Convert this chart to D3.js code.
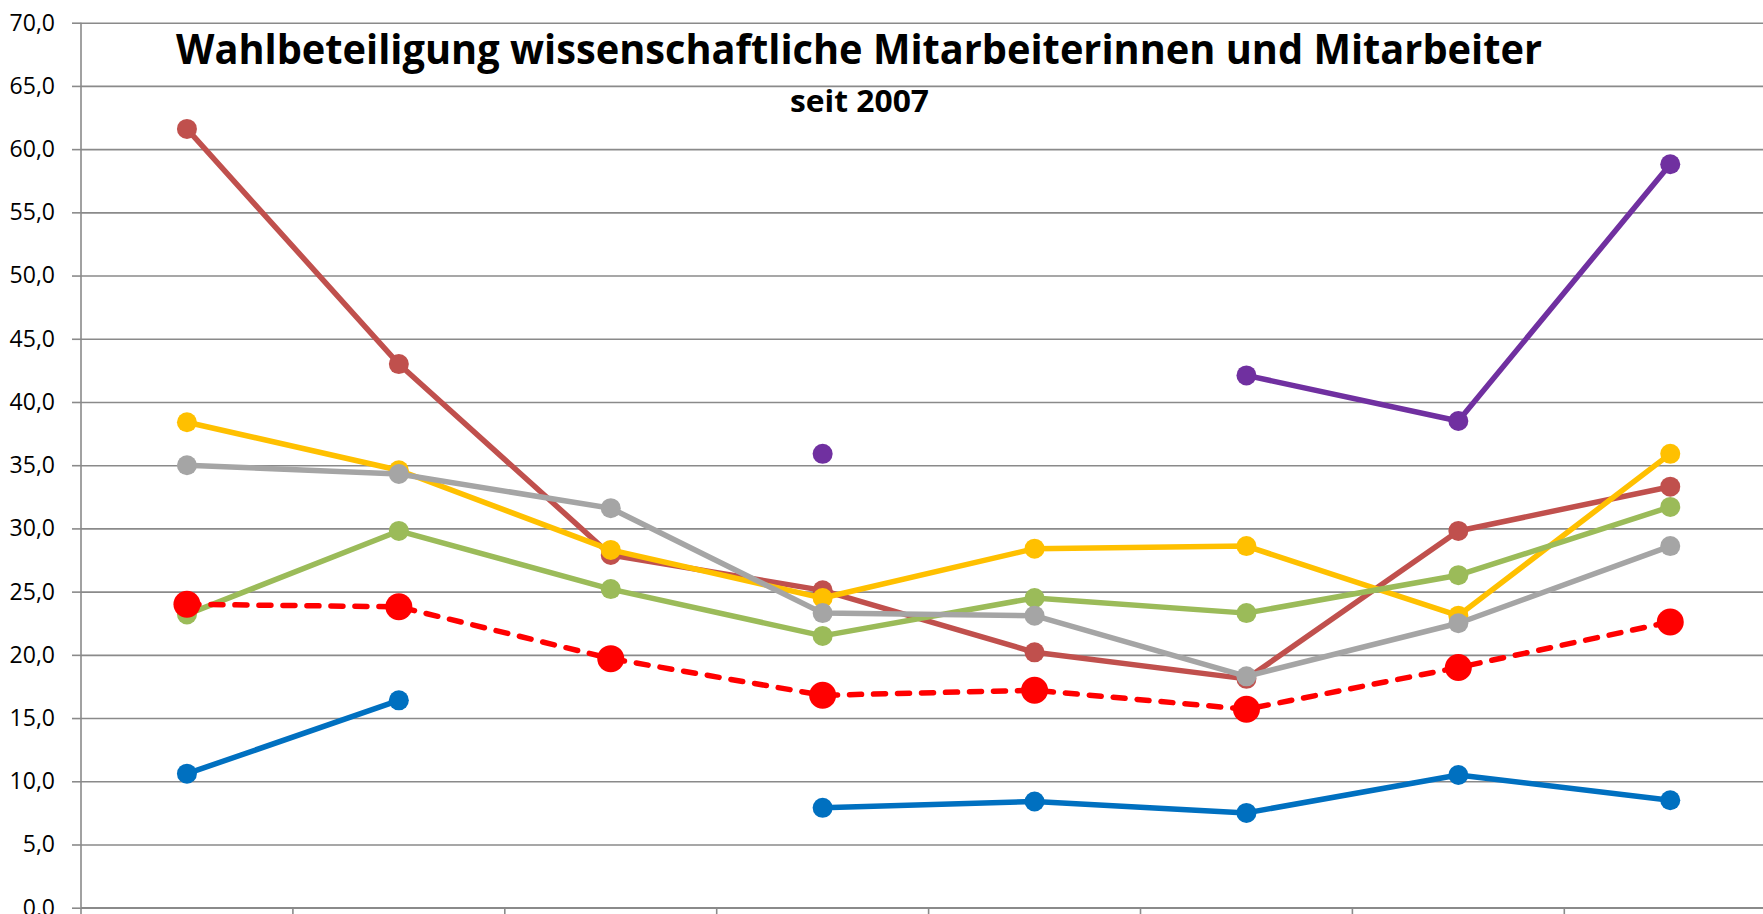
<!DOCTYPE html>
<html>
<head>
<meta charset="utf-8">
<script src="https://cdn.jsdelivr.net/npm/d3@7"></script>
<style>
  body { margin: 0; background: #fff; overflow: hidden; }
  svg { display: block; }
  .grid line { stroke: #8a8a8a; stroke-width: 1.6; }
  .grid path { display: none; }
  .axis path, .axis line { stroke: #8a8a8a; stroke-width: 1.6; }
  .axis text { font-family: "Open Sans", sans-serif; font-size: 23px; fill: #000; }
  .title { font-family: "Open Sans", sans-serif; font-weight: bold; fill: #000; }
</style>
</head>
<body>
<svg id="chart"></svg>
<script>
// election rounds (labels are cut off in the picture)
const categories = ["1", "2", "3", "4", "5", "6", "7", "8"];
const yTicks = [0, 5, 10, 15, 20, 25, 30, 35, 40, 45, 50, 55, 60, 65, 70];

const blueValues    = [10.6, 16.4, null, 7.9, 8.4, 7.5, 10.5, 8.5];
const purpleValues  = [null, null, null, 35.9, null, 42.1, 38.5, 58.8];
const darkRedValues = [61.6, 43.0, 27.9, 25.1, 20.2, 18.1, 29.8, 33.3];
const yellowValues  = [38.4, 34.6, 28.3, 24.5, 28.4, 28.6, 23.1, 35.9];
const greenValues   = [23.2, 29.8, 25.2, 21.5, 24.5, 23.3, 26.3, 31.7];
const grayValues    = [35.0, 34.3, 31.6, 23.3, 23.1, 18.3, 22.5, 28.6];
const totalValues   = [24.0, 23.8, 19.7, 16.8, 17.2, 15.7, 19.0, 22.6];

const series = [
    { values: blueValues, color: "#0070c0" },
    { values: purpleValues, color: "#7030a0" },
    { values: darkRedValues, color: "#c0504d" },
    { values: yellowValues, color: "#ffc000" },
    { values: greenValues, color: "#9bbb59" },
    { values: grayValues, color: "#a5a5a5" },
    { values: totalValues, color: "#ff0000", dashed: true }
];

const W = 1763, H = 914;
const margin = { top: 22.7, left: 81 };
const plotW = 8 * 211.9;
const plotH = 885;

const svg = d3.select("#chart")
    .attr("width", W)
    .attr("height", H);

const g = svg.append("g")
    .attr("transform", `translate(${margin.left},${margin.top})`);

const x = d3.scaleBand()
    .domain(categories)
    .range([0, plotW]);

const y = d3.scaleLinear()
    .domain([0, 70])
    .range([plotH, 0]);

// horizontal gridlines
g.append("g")
    .attr("class", "grid")
    .call(d3.axisLeft(y)
        .tickValues(yTicks)
        .tickSize(-plotW)
        .tickFormat(""));

// y axis
g.append("g")
    .attr("class", "axis")
    .call(d3.axisLeft(y)
        .tickValues(yTicks)
        .tickSize(9)
        .tickPadding(17)
        .tickFormat(d => d3.format(".1f")(d).replace(".", ",")))
    .call(a => a.select(".domain").attr("d", `M0,0V${plotH}`));

// x axis with ticks between categories
const xAxis = g.append("g")
    .attr("class", "axis")
    .attr("transform", `translate(0,${plotH})`);
xAxis.append("line")
    .attr("x1", 0).attr("x2", plotW);
xAxis.selectAll(".tk")
    .data(categories.concat(["end"]))
    .join("line")
    .attr("class", "tk")
    .attr("x1", (d, i) => i < categories.length ? x(d) : plotW)
    .attr("x2", (d, i) => i < categories.length ? x(d) : plotW)
    .attr("y1", 0)
    .attr("y2", 9);

const line = d3.line()
    .defined(d => d != null)
    .x((d, i) => x(categories[i]) + x.bandwidth() / 2)
    .y(d => y(d));

series.forEach(s => {
    g.append("path")
        .datum(s.values)
        .attr("fill", "none")
        .attr("stroke", s.color)
        .attr("stroke-width", 5.5)
        .attr("stroke-linecap", s.dashed ? "round" : "butt")
        .attr("stroke-linejoin", "round")
        .attr("stroke-dasharray", s.dashed ? "12,12" : null)
        .attr("d", line);

    g.selectAll(null)
        .data(s.values.map((v, i) => ({ v, c: categories[i] })).filter(d => d.v != null))
        .join("circle")
        .attr("cx", d => x(d.c) + x.bandwidth() / 2)
        .attr("cy", d => y(d.v))
        .attr("r", s.dashed ? 13.5 : 10)
        .attr("fill", s.color);
});

svg.append("text")
    .attr("class", "title")
    .attr("x", 176)
    .attr("y", 64)
    .attr("font-size", 42)
    .attr("textLength", 1366)
    .attr("lengthAdjust", "spacingAndGlyphs")
    .text("Wahlbeteiligung wissenschaftliche Mitarbeiterinnen und Mitarbeiter");

svg.append("text")
    .attr("class", "title")
    .attr("x", 790)
    .attr("y", 112)
    .attr("font-size", 30)
    .attr("textLength", 139)
    .attr("lengthAdjust", "spacingAndGlyphs")
    .text("seit 2007");
</script>
</body>
</html>
